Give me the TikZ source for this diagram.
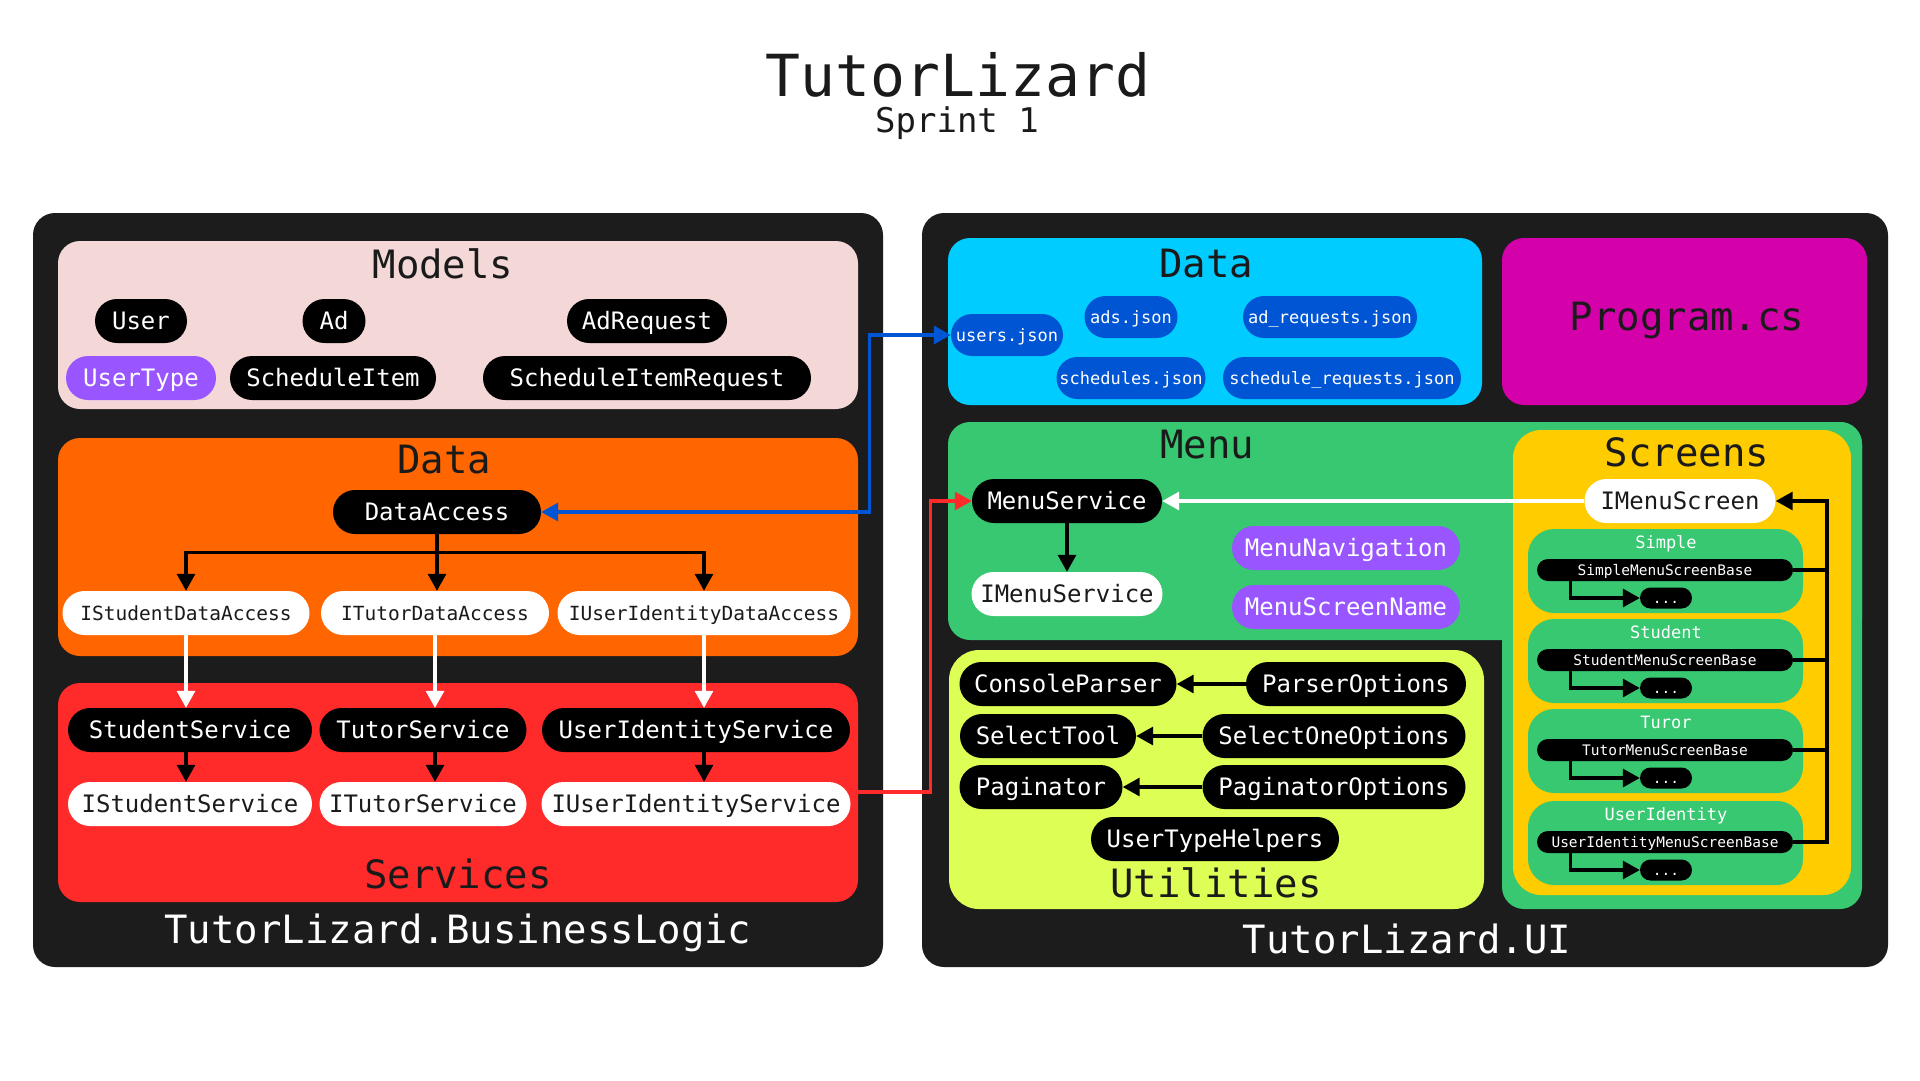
\documentclass[tikz,border=0pt]{standalone}
\usepackage{fontspec}
\setmainfont{DejaVu Sans Mono}
\usetikzlibrary{arrows.meta,calc}
\newcommand{\fsz}[1]{\fontsize{#1}{#1}\selectfont}
\definecolor{panel}{HTML}{1C1C1C}
\definecolor{ink}{HTML}{1A1A1A}
\definecolor{pinkbg}{HTML}{F4D7D7}
\definecolor{orangebg}{HTML}{FF6600}
\definecolor{redbg}{HTML}{FF2A2A}
\definecolor{cyanbg}{HTML}{00CCFF}
\definecolor{magbg}{HTML}{D400AA}
\definecolor{greenbg}{HTML}{37C871}
\definecolor{yellowbg}{HTML}{FFCC00}
\definecolor{limebg}{HTML}{DDFF55}
\definecolor{purp}{HTML}{9955FF}
\definecolor{jsonblue}{HTML}{0055D4}
\begin{document}
\begin{tikzpicture}[x=1pt,y=-1pt,
  nd/.style={rectangle,inner sep=0pt,minimum height=44pt,rounded corners=22pt,text height=17.5pt,text depth=0pt,font=\fsz{24}},
  bk/.style={nd,fill=black,text=white},
  wt/.style={nd,fill=white,text=ink},
  pp/.style={nd,fill=purp,text=white},
  wts/.style={wt,font=\fsz{19.5},text height=14.2pt},
  js/.style={nd,fill=jsonblue,text=white,minimum height=42pt,rounded corners=21pt,font=\fsz{17},text height=12.4pt},
  sm/.style={nd,fill=black,text=white,minimum height=22pt,rounded corners=11pt,font=\fsz{14.5},text height=10.6pt},
  dotnode/.style={sm,minimum width=52pt,minimum height=21pt,rounded corners=10.5pt},
  ttl/.style={inner sep=0pt,anchor=base,font=\fsz{39},text=ink},
  ttlw/.style={ttl,text=white},
  sublbl/.style={inner sep=0pt,anchor=base,font=\fsz{17},text=white},
  grp/.style={rounded corners=22pt},
  conn/.style={line width=3.2pt},
  arrw/.style={line width=3.2pt,-{Triangle[length=17pt,width=18pt]}},
  biarr/.style={line width=3.2pt,{Triangle[length=17pt,width=18pt]}-{Triangle[length=17pt,width=18pt]}},
]
\useasboundingbox (0,0) rectangle (1920,1080);
\fill[white] (0,0) rectangle (1920,1080);

% title
\node[inner sep=0pt,anchor=base,font=\fsz{58},text=ink] (title) at (958,96) {TutorLizard};
\node[inner sep=0pt,anchor=base,font=\fsz{34},text=ink] (sprint) at (957,132) {Sprint 1};

% ---------------- left panel ----------------
\fill[panel,rounded corners=22pt] (33,213) rectangle (883,967);
\fill[pinkbg,grp] (58,241) rectangle (858,409);
\fill[orangebg,grp] (58,438) rectangle (858,656);
\fill[redbg,grp] (58,683) rectangle (858,902);

\node[ttl] (tModels) at (443,278) {Models};
\node[ttl] (tDataL) at (444,473) {Data};
\node[ttl] (tServices) at (458,888) {Services};
\node[ttlw] (tBL) at (458,943) {TutorLizard.BusinessLogic};

\node[bk,minimum width=92] (user) at (141,321) {User};
\node[bk,minimum width=63] (ad) at (334,321) {Ad};
\node[bk,minimum width=160] (adreq) at (647,321) {AdRequest};
\node[pp,minimum width=150] (usertype) at (141,378) {UserType};
\node[bk,minimum width=206] (schedItem) at (333,378) {ScheduleItem};
\node[bk,minimum width=328] (schedReq) at (647,378) {ScheduleItemRequest};

\node[bk,minimum width=208] (dataAccess) at (437,512) {DataAccess};
\node[wts,minimum width=247] (isda) at (186,613) {IStudentDataAccess};
\node[wts,minimum width=228] (itda) at (435,613) {ITutorDataAccess};
\node[wts,minimum width=293] (iuida) at (704,613) {IUserIdentityDataAccess};

\node[bk,minimum width=244] (studentSvc) at (190,730) {StudentService};
\node[bk,minimum width=207] (tutorSvc) at (423,730) {TutorService};
\node[bk,minimum width=308] (uiSvc) at (696,730) {UserIdentityService};
\node[wt,minimum width=244] (iStudentSvc) at (190,804) {IStudentService};
\node[wt,minimum width=207] (iTutorSvc) at (423,804) {ITutorService};
\node[wt,minimum width=309] (iuiSvc) at (696,804) {IUserIdentityService};

\draw[arrw] (dataAccess.south) -- ++(0,18) -| (isda.north);
\draw[arrw] (dataAccess.south) -- (dataAccess.south |- itda.north);
\draw[arrw] (dataAccess.south) -- ++(0,18) -| (iuida.north);
\draw[arrw,draw=white] (isda.south) -- (isda.south |- studentSvc.north);
\draw[arrw,draw=white] (itda.south) -- (itda.south |- tutorSvc.north);
\draw[arrw,draw=white] (iuida.south) -- (iuida.south |- uiSvc.north);
\draw[arrw] (isda.south |- studentSvc.south) -- (isda.south |- iStudentSvc.north);
\draw[arrw] (itda.south |- tutorSvc.south) -- (itda.south |- iTutorSvc.north);
\draw[arrw] (iuida.south |- uiSvc.south) -- (iuida.south |- iuiSvc.north);

% ---------------- right panel ----------------
\fill[panel,rounded corners=22pt] (922,213) rectangle (1888,967);
\fill[cyanbg,grp] (948,238) rectangle (1482,405);
\fill[magbg,grp] (1502,238) rectangle (1867,405);
\fill[greenbg,grp] (948,422) rectangle (1862,640);
\fill[greenbg,grp] (1502,422) rectangle (1862,909);
\fill[yellowbg,rounded corners=28pt] (1513,430) rectangle (1851,895);
\fill[limebg,rounded corners=30pt] (949,650) rectangle (1484,909);
\foreach \t in {529,619,709,801}{
  \fill[greenbg,rounded corners=26pt] (1528,\t) rectangle (1803,\t+84);
}

\node[ttl] (tDataR) at (1206,277) {Data};
\node[ttl] (tProgram) at (1687,330) {Program.cs};
\node[ttl] (tMenu) at (1207,458) {Menu};
\node[ttl] (tScreens) at (1687,466) {Screens};
\node[ttl] (tUtil) at (1216,897) {Utilities};
\node[ttlw] (tUI) at (1407,953) {TutorLizard.UI};

\node[js,minimum width=112] (usersJson) at (1007,335) {users.json};
\node[js,minimum width=93] (adsJson) at (1131,317) {ads.json};
\node[js,minimum width=174] (adReqJson) at (1330,317) {ad\_requests.json};
\node[js,minimum width=149] (schedJson) at (1131,378) {schedules.json};
\node[js,minimum width=238] (schedReqJson) at (1342,378) {schedule\_requests.json};

\node[bk,minimum width=190] (menuSvc) at (1067,501) {MenuService};
\node[wt,minimum width=191] (iMenuSvc) at (1067,594) {IMenuService};
\node[pp,minimum width=228] (menuNav) at (1346,548) {MenuNavigation};
\node[pp,minimum width=228] (menuScrName) at (1346,607) {MenuScreenName};
\node[wt,minimum width=191] (iMenuScr) at (1680,501) {IMenuScreen};

\node[sublbl] (lSimple) at (1666,548) {Simple};
\node[sublbl] (lStudent) at (1666,638) {Student};
\node[sublbl] (lTutor) at (1666,728) {Turor};
\node[sublbl] (lUser) at (1666,820) {UserIdentity};

\node[sm,minimum width=256] (bSimple) at (1665,570) {SimpleMenuScreenBase};
\node[sm,minimum width=256] (bStudent) at (1665,660) {StudentMenuScreenBase};
\node[sm,minimum width=256] (bTutor) at (1665,750) {TutorMenuScreenBase};
\node[sm,minimum width=256] (bUser) at (1665,842) {UserIdentityMenuScreenBase};

\node[dotnode] (dSimple) at (1666,598) {...};
\node[dotnode] (dStudent) at (1666,688) {...};
\node[dotnode] (dTutor) at (1666,778) {...};
\node[dotnode] (dUser) at (1666,870) {...};

\coordinate (bus) at (1827,501);
\draw[conn] (bSimple.east) -- (bSimple.east -| bus);
\draw[conn] (bStudent.east) -- (bStudent.east -| bus);
\draw[conn] (bTutor.east) -- (bTutor.east -| bus);
\draw[arrw] (bUser.east) -| (bus) -- (iMenuScr.east);
\draw[arrw] ([xshift=34pt]bSimple.south west) |- (dSimple.west);
\draw[arrw] ([xshift=34pt]bStudent.south west) |- (dStudent.west);
\draw[arrw] ([xshift=34pt]bTutor.south west) |- (dTutor.west);
\draw[arrw] ([xshift=34pt]bUser.south west) |- (dUser.west);

\draw[arrw,draw=white] (iMenuScr.west) -- (menuSvc.east);
\draw[arrw] (menuSvc.south) -- (iMenuSvc.north);

\node[bk,minimum width=217] (consoleParser) at (1068,684) {ConsoleParser};
\node[bk,minimum width=220] (parserOpts) at (1356,684) {ParserOptions};
\node[bk,minimum width=176] (selectTool) at (1048,736) {SelectTool};
\node[bk,minimum width=263] (selectOneOpts) at (1334,736) {SelectOneOptions};
\node[bk,minimum width=163] (paginator) at (1041,787) {Paginator};
\node[bk,minimum width=263] (paginatorOpts) at (1334,787) {PaginatorOptions};
\node[bk,minimum width=248] (userTypeHelpers) at (1215,839) {UserTypeHelpers};

\draw[arrw] (parserOpts.west) -- (consoleParser.east);
\draw[arrw] (selectOneOpts.west) -- (selectTool.east);
\draw[arrw] (paginatorOpts.west) -- (paginator.east);

% ---------------- cross connectors ----------------
\draw[biarr,draw=jsonblue] (dataAccess.east) -- ++(328,0) |- (usersJson.west);
\draw[arrw,draw=redbg] ([yshift=12pt]iuiSvc.east) -- ++(80,0) |- (menuSvc.west);
\end{tikzpicture}
\end{document}
